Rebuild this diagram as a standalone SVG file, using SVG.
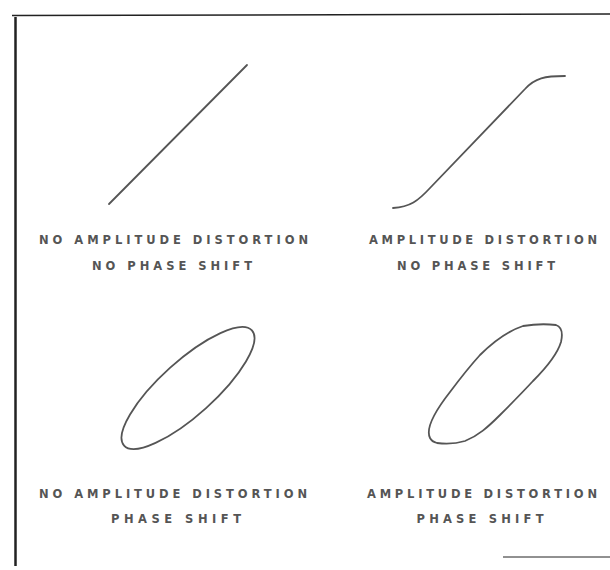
<svg xmlns="http://www.w3.org/2000/svg" width="610" height="570" viewBox="0 0 610 570">
<style>
.frame{stroke:#222;stroke-width:1.5;fill:none}
.trace{stroke:#555;stroke-width:1.8;fill:none;stroke-linecap:round;stroke-linejoin:round}
.lbl{font-family:"DejaVu Sans","Liberation Sans",sans-serif;font-size:11.5px;font-weight:bold;fill:#555;text-anchor:middle}
</style>
<rect width="610" height="570" fill="#fff"/>
<g id="frame">
<path class="frame" d="M12 15.5 L610 14"/>
<path class="frame" d="M15.5 17 L15.5 566" style="stroke-width:2.5"/>
<path class="frame" d="M503 557 L610 557" style="stroke-width:1"/>
</g>
<g id="panel1">
<path class="trace" d="M109 204 L247 65"/>
<text class="lbl" x="173.5" y="243.5" textLength="269" lengthAdjust="spacing">NO AMPLITUDE DISTORTION</text>
<text class="lbl" x="172" y="269.5" textLength="160" lengthAdjust="spacing">NO PHASE SHIFT</text>
</g>
<g id="panel2">
<path class="trace" d="M393 208 C410 207 418 201 430 188 L525 89 C535 78 545 76 565 76"/>
<text class="lbl" x="483" y="243.5" textLength="228" lengthAdjust="spacing">AMPLITUDE DISTORTION</text>
<text class="lbl" x="476" y="269.5" textLength="158" lengthAdjust="spacing">NO PHASE SHIFT</text>
</g>
<g id="panel3">
<ellipse class="trace" cx="188" cy="388" rx="86" ry="27" transform="rotate(-42 188 388)"/>
<text class="lbl" x="173" y="497.5" textLength="268" lengthAdjust="spacing">NO AMPLITUDE DISTORTION</text>
<text class="lbl" x="176" y="522.5" textLength="130" lengthAdjust="spacing">PHASE SHIFT</text>
</g>
<g id="panel4">
<path class="trace" d="M430 438 C426 430 432 415 450 392 C462 376 470 366 480 355 C495 340 508 331 523 326 C535 324 548 324 556 325 C562 327 563 333 561 342 C558 352 550 364 533 381 C520 395 510 405 500 415 C488 427 478 436 465 441 C455 444 445 444 437 443 C433 442 431 440 430 438 Z"/>
<text class="lbl" x="482" y="497.5" textLength="230" lengthAdjust="spacing">AMPLITUDE DISTORTION</text>
<text class="lbl" x="480" y="522.5" textLength="127" lengthAdjust="spacing">PHASE SHIFT</text>
</g>
</svg>
